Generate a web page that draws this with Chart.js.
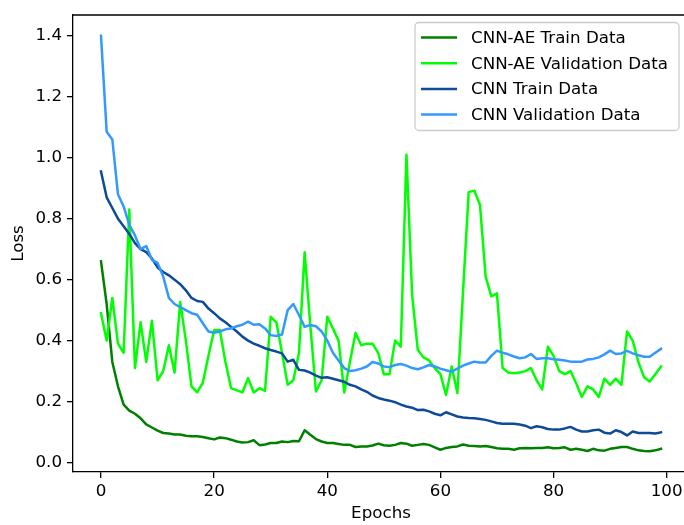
<!DOCTYPE html>
<html lang="en">

<head>
    <meta charset="UTF-8">
    <title>Loss curves</title>
    <script src="https://cdn.jsdelivr.net/npm/chart.js"></script>
    <style>
        body {
            margin: 0;
            background: #fff;
            overflow: hidden;
        }

        .wrap {
            width: 690px;
            height: 525px;
        }
    </style>
</head>

<body>
    <div class="wrap"><canvas id="loss-chart" width="690" height="525"></canvas></div>

    <script>
        // epochs 0..99
        const epochs = Array.from({ length: 100 }, (_, i) => i);
        const xTickValues = [0, 20, 40, 60, 80, 100];
        const yTickValues = [0.0, 0.2, 0.4, 0.6, 0.8, 1.0, 1.2, 1.4];

        const cnnAeTrain = [
            0.66, 0.52, 0.33, 0.25, 0.19, 0.17, 0.16, 0.145, 0.125, 0.115,
            0.105, 0.097, 0.095, 0.092, 0.092, 0.088, 0.086, 0.086, 0.084, 0.080,
            0.076, 0.082, 0.080, 0.075, 0.069, 0.066, 0.067, 0.073, 0.057, 0.059,
            0.064, 0.064, 0.069, 0.067, 0.071, 0.070, 0.106, 0.091, 0.077, 0.069,
            0.064, 0.064, 0.061, 0.058, 0.058, 0.051, 0.053, 0.053, 0.056, 0.062,
            0.057, 0.055, 0.058, 0.064, 0.062, 0.055, 0.058, 0.061, 0.058, 0.050,
            0.042, 0.048, 0.051, 0.053, 0.059, 0.055, 0.054, 0.053, 0.054, 0.051,
            0.047, 0.045, 0.045, 0.042, 0.047, 0.048, 0.047, 0.048, 0.048, 0.050,
            0.047, 0.048, 0.050, 0.042, 0.045, 0.042, 0.038, 0.045, 0.040, 0.039,
            0.045, 0.048, 0.051, 0.051, 0.045, 0.040, 0.038, 0.037, 0.040, 0.045
        ];

        const cnnAeVal = [
            0.49, 0.40, 0.54, 0.39, 0.36, 0.83, 0.31, 0.46, 0.33, 0.465,
            0.27, 0.30, 0.385, 0.295, 0.527, 0.40, 0.25, 0.23, 0.262, 0.35,
            0.435, 0.435, 0.33, 0.244, 0.237, 0.23, 0.277, 0.23, 0.244, 0.235,
            0.478, 0.46, 0.36, 0.255, 0.27, 0.36, 0.69, 0.45, 0.233, 0.27,
            0.478, 0.44, 0.40, 0.23, 0.33, 0.425, 0.385, 0.39, 0.39, 0.36,
            0.29, 0.29, 0.40, 0.38, 1.01, 0.55, 0.37, 0.345, 0.335, 0.31,
            0.29, 0.222, 0.315, 0.228, 0.56, 0.887, 0.892, 0.845, 0.61, 0.545,
            0.555, 0.31, 0.295, 0.293, 0.295, 0.30, 0.31, 0.27, 0.24, 0.38,
            0.35, 0.30, 0.29, 0.30, 0.26, 0.215, 0.25, 0.24, 0.215, 0.275,
            0.255, 0.275, 0.255, 0.43, 0.40, 0.33, 0.28, 0.266, 0.29, 0.315
        ];

        const cnnTrain = [
            0.955, 0.87, 0.835, 0.80, 0.775, 0.75, 0.72, 0.70, 0.69, 0.67,
            0.64, 0.625, 0.614, 0.60, 0.585, 0.565, 0.54, 0.53, 0.527, 0.505,
            0.49, 0.473, 0.46, 0.445, 0.43, 0.413, 0.40, 0.39, 0.383, 0.375,
            0.369, 0.364, 0.358, 0.331, 0.337, 0.304, 0.302, 0.295, 0.285, 0.278,
            0.28, 0.275, 0.27, 0.265, 0.255, 0.25, 0.24, 0.232, 0.22, 0.212,
            0.207, 0.203, 0.198, 0.19, 0.184, 0.18, 0.172, 0.173, 0.168, 0.16,
            0.155, 0.165, 0.158, 0.151, 0.148, 0.146, 0.145, 0.143, 0.14, 0.135,
            0.13, 0.127, 0.127, 0.127, 0.125, 0.121, 0.113, 0.119, 0.116, 0.11,
            0.108, 0.108, 0.112, 0.117, 0.108, 0.102, 0.102, 0.106, 0.108, 0.098,
            0.095, 0.106, 0.10, 0.089, 0.102, 0.097, 0.097, 0.097, 0.095, 0.099
        ];

        const cnnVal = [
            1.40, 1.085, 1.06, 0.88, 0.84, 0.78, 0.745, 0.70, 0.71, 0.665,
            0.655, 0.61, 0.54, 0.52, 0.51, 0.50, 0.49, 0.485, 0.457, 0.43,
            0.426, 0.43, 0.437, 0.44, 0.447, 0.452, 0.462, 0.452, 0.454, 0.44,
            0.418, 0.415, 0.42, 0.50, 0.52, 0.484, 0.445, 0.451, 0.447, 0.43,
            0.40, 0.36, 0.335, 0.31, 0.30, 0.303, 0.308, 0.315, 0.33, 0.325,
            0.315, 0.313, 0.32, 0.323, 0.318, 0.31, 0.306, 0.312, 0.32, 0.315,
            0.308, 0.303, 0.298, 0.308, 0.318, 0.325, 0.331, 0.328, 0.328, 0.35,
            0.367, 0.36, 0.355, 0.348, 0.342, 0.345, 0.356, 0.34, 0.342, 0.342,
            0.339, 0.337, 0.335, 0.331, 0.331, 0.331, 0.338, 0.34, 0.345, 0.355,
            0.367, 0.356, 0.358, 0.366, 0.358, 0.352, 0.347, 0.347, 0.36, 0.373
        ];

        const seriesNames = ['CNN-AE Train Data', 'CNN-AE Validation Data', 'CNN Train Data', 'CNN Validation Data'];
        const seriesValues = [cnnAeTrain, cnnAeVal, cnnTrain, cnnVal];
        const seriesColors = ['#008000', '#00ff00', '#0d4a98', '#3399ff'];

        const FONT = { family: "'DejaVu Sans', sans-serif", size: 16.7 };

        const datasets = seriesValues.map((vals, k) => ({
            label: seriesNames[k],
            data: epochs.map((e, i) => ({ x: e, y: vals[i] })),
            borderColor: seriesColors[k],
            backgroundColor: seriesColors[k],
            borderWidth: 2.5,
            borderJoinStyle: 'round',
            borderCapStyle: 'square',
            pointRadius: 0,
            tension: 0,
            order: seriesValues.length - k
        }));

        // top/right spines + matplotlib style legend
        const framePlugin = {
            id: 'frame',
            afterDraw(chart) {
                const ctx = chart.ctx;
                const a = chart.chartArea;
                ctx.save();
                ctx.strokeStyle = '#000';
                ctx.lineWidth = 1.3;
                ctx.beginPath();
                ctx.moveTo(a.left, a.top);
                ctx.lineTo(a.right, a.top);
                ctx.lineTo(a.right, a.bottom);
                ctx.stroke();

                // legend box
                const bx = 415, by = 22.5, bw = 264, bh = 108;
                ctx.beginPath();
                ctx.roundRect(bx, by, bw, bh, 4);
                ctx.fillStyle = 'rgba(255,255,255,0.8)';
                ctx.fill();
                ctx.strokeStyle = '#cccccc';
                ctx.lineWidth = 1.3;
                ctx.stroke();

                ctx.font = FONT.size + 'px ' + FONT.family;
                ctx.textBaseline = 'middle';
                ctx.textAlign = 'left';
                chart.data.datasets.forEach((ds, i) => {
                    const y = 37.5 + i * 25.7;
                    ctx.strokeStyle = ds.borderColor;
                    ctx.lineWidth = 2.5;
                    ctx.beginPath();
                    ctx.moveTo(421, y);
                    ctx.lineTo(457, y);
                    ctx.stroke();
                    ctx.fillStyle = '#000';
                    ctx.fillText(ds.label, 471, y + 1);
                });
                ctx.restore();
            }
        };

        new Chart(document.getElementById('loss-chart'), {
            type: 'line',
            data: { datasets: datasets },
            plugins: [framePlugin],
            options: {
                responsive: false,
                animation: false,
                layout: { padding: { top: 14, right: 1, left: 0, bottom: 0 } },
                plugins: { legend: { display: false }, tooltip: { enabled: false } },
                scales: {
                    x: {
                        type: 'linear',
                        min: -4.95,
                        max: 103.95,
                        afterBuildTicks: s => { s.ticks = xTickValues.map(v => ({ value: v })); },
                        afterFit: s => { s.height = 53; },
                        grid: { drawOnChartArea: false, tickLength: 6, color: '#000', lineWidth: 1.3 },
                        border: { display: true, color: '#000', width: 1.3 },
                        ticks: {
                            color: '#000', font: FONT, padding: 4, maxRotation: 0, autoSkip: false,
                            callback: v => String(v)
                        },
                        title: { display: true, text: 'Epochs', color: '#000', font: FONT, padding: { top: 0, bottom: 1 } }
                    },
                    y: {
                        type: 'linear',
                        min: -0.031,
                        max: 1.468,
                        afterBuildTicks: s => { s.ticks = yTickValues.map(v => ({ value: v })); },
                        afterFit: s => { s.width = 73; },
                        grid: { drawOnChartArea: false, tickLength: 6, color: '#000', lineWidth: 1.3 },
                        border: { display: true, color: '#000', width: 1.3 },
                        ticks: {
                            color: '#000', font: FONT, padding: 5, autoSkip: false,
                            callback: v => v.toFixed(1)
                        },
                        title: { display: true, text: 'Loss', color: '#000', font: FONT, padding: { top: 9, bottom: 0 } }
                    }
                }
            }
        });
    </script>
</body>

</html>
